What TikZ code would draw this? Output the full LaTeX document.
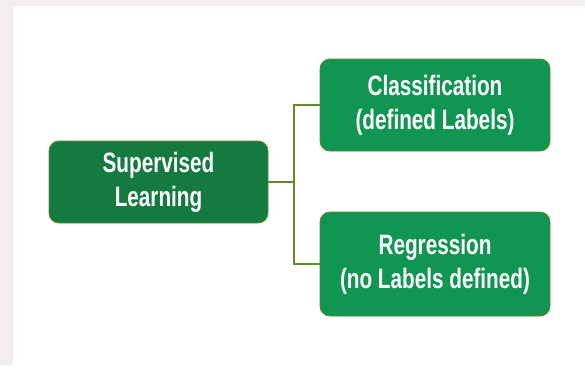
\documentclass[tikz,border=0pt]{standalone}
\usepackage{fontspec}
\setmainfont{Liberation Sans}[FakeStretch=0.74]
\definecolor{darkbox}{HTML}{157A40}
\definecolor{lightbox}{HTML}{109552}
\definecolor{edge}{HTML}{5E8A2C}
\definecolor{side}{HTML}{F2EEF0}
\begin{document}
\begin{tikzpicture}[x=1pt,y=1pt,
  box/.style={draw=edge, line width=0.9pt, rounded corners=10pt, text=white,
    font=\bfseries\fontsize{28}{34}\selectfont, align=center, inner sep=0pt},
  link/.style={draw=edge, line width=1.3pt}]
\useasboundingbox (0,0) rectangle (585,365);
\fill[side] (0,0) rectangle (585,365);
\fill[white] (13,0) rectangle (585,359);
\node[box, fill=darkbox, minimum width=219pt, minimum height=82pt] (sup) at (158.5,183) {Supervised\\Learning};
\node[box, fill=lightbox, minimum width=230pt, minimum height=92pt] (cls) at (435,260) {Classification\\(defined Labels)};
\node[box, fill=lightbox, minimum width=230pt, minimum height=104pt] (reg) at (435,101) {Regression\\(no Labels defined)};
\coordinate (j) at (294,183);
\draw[link] (sup.east) -- (j);
\draw[link] (cls.west) -| (j) |- (reg.west);
\end{tikzpicture}
\end{document}
